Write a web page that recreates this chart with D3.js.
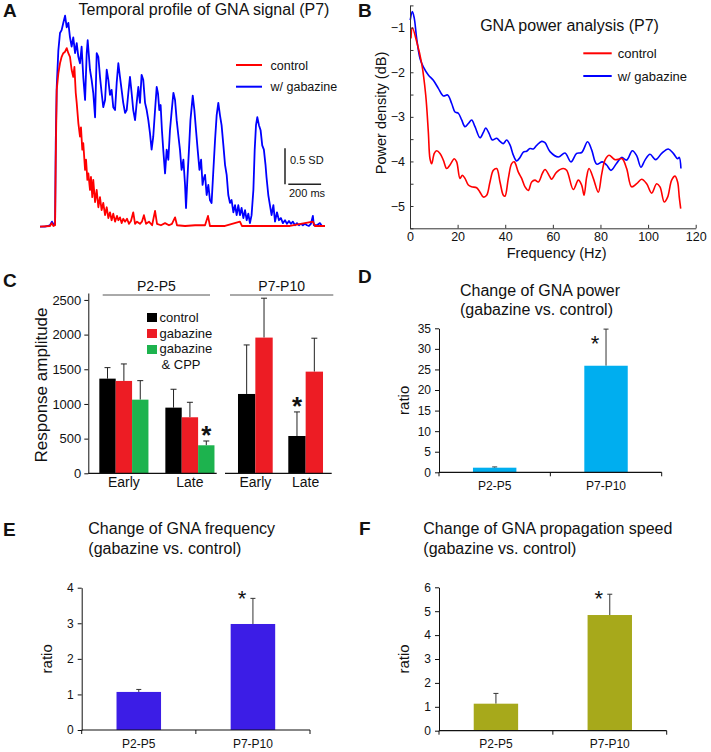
<!DOCTYPE html>
<html>
<head>
<meta charset="utf-8">
<script src="https://cdn.jsdelivr.net/npm/d3@7"></script>
<style>
  body { margin: 0; background: #fff; }
  svg text { font-family: "Liberation Sans", Arial, sans-serif; fill: #111; }
</style>
</head>
<body>
<svg id="canvas"></svg>
<script>
// ---------- data ----------

// A: temporal profile, [time ms, amplitude SD]
let traceGabazine = [[0,0],[30,0],[61,0.02],[73,0.07],[85,0.02],[92,0.04],[96,1.16],[102,1.94],[112,2.45],[122,2.69],[132,2.73],[142,2.83],[153,2.93],[163,2.77],[173,2.83],[183,2.63],[193,2.5],[203,2.63],[214,2.41],[224,2.55],[234,2.36],[244,2.27],[254,2.5],[264,2.08],[275,1.76],[285,2.41],[291,2.59],[305,2.18],[315,2.04],[325,1.86],[336,1.52],[346,2.41],[356,2.36],[366,2.08],[376,1.86],[386,1.66],[397,1.76],[407,2.18],[417,2.04],[427,1.83],[437,1.9],[447,1.66],[458,1.62],[468,2.0],[478,2.27],[488,2.08],[498,1.9],[508,1.72],[519,1.58],[529,1.62],[539,1.86],[549,2.08],[559,1.86],[569,1.62],[580,1.48],[590,1.72],[600,1.94],[610,1.72],[620,2.11],[630,2.04],[641,1.72],[651,1.62],[661,1.48],[671,1.3],[681,1.07],[691,1.25],[702,1.62],[712,1.94],[720,1.85],[728,1.62],[736,1.69],[744,1.34],[752,1.07],[763,0.74],[773,1.07],[783,0.93],[793,1.34],[804,1.62],[814,1.86],[824,1.76],[834,1.48],[844,1.27],[854,1.07],[864,0.79],[875,0.93],[885,0.58],[891,0.26],[899,0.65],[909,1.07],[918,1.48],[932,1.82],[942,1.62],[952,1.34],[962,1.07],[973,0.79],[983,0.93],[992,0.58],[997,0.65],[1007,0.72],[1017,0.44],[1027,0.58],[1037,0.37],[1047,0.33],[1058,0.79],[1068,1.2],[1078,1.55],[1088,1.72],[1098,1.55],[1108,1.41],[1119,1.13],[1129,0.86],[1139,0.72],[1149,0.44],[1159,0.33],[1169,0.37],[1180,0.2],[1190,0.3],[1200,0.16],[1210,0.3],[1220,0.16],[1230,0.26],[1241,0.12],[1251,0.23],[1261,0.09],[1271,0.18],[1281,0.05],[1291,0.16],[1302,0.51],[1310,1.07],[1318,1.41],[1326,1.52],[1336,1.41],[1346,1.34],[1356,1.13],[1366,1.07],[1376,0.86],[1382,0.69],[1393,0.44],[1403,0.3],[1413,0.16],[1424,0.3],[1434,0.07],[1446,0.2],[1458,0.09],[1470,0.12],[1482,0.05],[1495,0.09],[1507,0.04],[1519,0.08],[1531,0.04],[1543,0.07],[1556,0.02],[1568,0.05],[1580,0.02],[1592,0.04],[1604,0.02],[1617,0.04],[1629,0.02],[1641,0.01],[1653,0.04],[1665,0.15],[1671,0.02],[1690,0.02],[1708,0.05],[1720,0.01],[1739,0.01]]

let traceControl = [[0,0],[61,0.01],[72,0.05],[82,0.01],[92,0.02],[96,0.93],[102,1.9],[112,2.13],[122,2.27],[132,2.36],[142,2.41],[153,2.43],[163,2.48],[173,2.41],[183,2.36],[193,2.18],[203,2.08],[210,2.22],[218,1.86],[224,1.72],[234,1.44],[244,1.25],[250,1.38],[258,1.07],[264,1.16],[275,0.79],[281,0.93],[289,0.65],[295,0.74],[305,0.51],[311,0.69],[319,0.41],[325,0.65],[336,0.34],[346,0.51],[356,0.27],[366,0.41],[376,0.23],[386,0.33],[397,0.16],[407,0.27],[417,0.12],[427,0.2],[437,0.09],[447,0.18],[458,0.07],[470,0.15],[478,0.09],[488,0.13],[498,0.05],[508,0.11],[519,0.07],[531,0.11],[543,0.04],[555,0.08],[569,0.2],[580,0.04],[592,0.07],[610,0.04],[622,0.07],[634,0.16],[647,0.04],[665,0.07],[684,0.02],[702,0.22],[714,0.04],[738,0.02],[763,0.05],[787,0.02],[805,0.04],[824,0.13],[836,0.02],[885,0.01],[946,0.02],[1007,0.02],[1025,0.15],[1037,0.01],[1129,0.01],[1220,0.07],[1232,0.01],[1342,0.01],[1525,0.01],[1665,0.07],[1678,0.01],[1739,0.01]]

// B: power density, [frequency Hz, dB]
let psdControl = [[0.4,-1.24],[1.0,-1.0],[2.8,-1.31],[4.9,-1.8],[6.6,-2.51],[7.7,-3.34],[8.4,-3.94],[9.1,-4.05],[10.2,-3.82],[11.2,-3.76],[12.6,-3.82],[14,-3.97],[15.4,-4.16],[16.8,-4.08],[18.6,-3.94],[19.6,-4.01],[21,-4.38],[22,-4.31],[23.1,-4.38],[24.5,-4.53],[25.9,-4.57],[28,-4.59],[29.4,-4.69],[30.8,-4.8],[32.2,-4.76],[33.6,-4.46],[35,-4.2],[36.4,-4.16],[37.8,-4.46],[39.2,-4.76],[39.9,-4.78],[41.3,-4.38],[42.7,-4.05],[43.8,-4.01],[45.5,-4.24],[46.9,-4.38],[48.3,-4.57],[49.7,-4.65],[51.1,-4.46],[52.5,-4.42],[53.9,-4.46],[55.6,-4.27],[56.7,-4.18],[58.8,-4.35],[59.5,-4.4],[61.6,-4.24],[64.4,-4.16],[65.8,-4.2],[68.6,-4.63],[70.7,-4.42],[72.1,-4.53],[73.1,-4.76],[74.2,-4.35],[75.2,-4.16],[77,-4.38],[79.1,-4.69],[80.5,-4.29],[81.9,-3.97],[83.6,-3.86],[86.1,-3.96],[88.2,-3.94],[89.2,-3.94],[91,-4.16],[93.1,-4.57],[95.2,-4.5],[97.3,-4.4],[99.4,-4.5],[101.5,-4.71],[103.6,-4.5],[105,-4.57],[106.8,-4.91],[108.2,-4.8],[109.9,-4.42],[111.3,-4.33],[112.4,-4.46],[113.1,-4.8],[113.7,-5.06]]

let psdGabazine = [[0.1,-0.83],[1.0,-0.64],[1.8,-0.79],[2.8,-1.24],[4.2,-1.69],[5.6,-1.88],[7.7,-2.06],[9.8,-2.18],[11.9,-2.36],[14,-2.53],[15.8,-2.51],[17.5,-2.7],[18.9,-2.89],[20.3,-2.92],[21.7,-3.07],[23.1,-3.22],[24.5,-3.15],[25.9,-3.07],[27.3,-3.22],[29.4,-3.47],[30.8,-3.35],[31.8,-3.25],[33.2,-3.37],[34.6,-3.52],[36.4,-3.48],[37.8,-3.55],[39.2,-3.6],[40.6,-3.52],[42,-3.63],[43.4,-3.86],[44.8,-3.99],[46.2,-3.91],[47.6,-3.79],[49,-3.77],[50.4,-3.71],[51.8,-3.72],[53.2,-3.64],[55.3,-3.55],[56.7,-3.58],[58.8,-3.78],[62.3,-3.9],[65.1,-3.81],[67.6,-4.01],[70,-3.82],[72.1,-3.8],[74.6,-3.56],[76.3,-3.74],[78.4,-4.06],[80.8,-4.01],[82.6,-4.08],[84.4,-4.2],[86.8,-4.04],[88.9,-3.91],[91,-3.97],[93.4,-3.76],[95.2,-3.87],[97,-4.13],[98.7,-3.97],[100.8,-3.84],[103.2,-3.96],[105.7,-3.82],[108.5,-3.72],[110.6,-3.82],[112.4,-3.94],[113.1,-3.91],[113.8,-4.16]]

// C: response amplitude (mean, SEM)
let ampPhases = ["Early", "Late"]
let ampSeriesP2P5 = ["control", "gabazine", "gabazine & CPP"]
let ampSeriesP7P10 = ["control", "gabazine"]
let ampP2P5 = [[1365, 947], [1332, 808], [1062, 404]]
let ampP2P5Err = [[159, 265], [245, 216], [274, 62]]
let ampP7P10 = [[1144, 538], [1957, 1466]]
let ampP7P10Err = [[707, 347], [568, 482]]

// D, E, F: gabazine vs. control ratios
let ageGroups = ["P2-P5", "P7-P10"]
let powerRatio = [1.12, 25.9]
let powerRatioErr = [0.18, 8.9]
let freqRatio = [1.07, 2.98]
let freqRatioErr = [0.07, 0.72]
let speedRatio = [1.13, 4.84]
let speedRatioErr = [0.43, 0.87]

// ---------- drawing ----------
let width = 711
let height = 752
let canvas = d3.select("#canvas").attr("width", width).attr("height", height)

let red = "#ff0000"
let blue = "#0000ff"

let label = (x, y, txt, size, anchor, weight) =>
  canvas.append("text").attr("x", x).attr("y", y)
        .attr("font-size", size).attr("text-anchor", anchor || "start")
        .attr("font-weight", weight || "normal").text(txt)

// panel letters
label(3, 17, "A", 19, "start", "bold")
label(358, 17, "B", 19, "start", "bold")
label(3, 287, "C", 19, "start", "bold")
label(358, 283, "D", 19, "start", "bold")
label(3, 536, "E", 19, "start", "bold")
label(359, 535, "F", 19, "start", "bold")

// ===== Panel A =====
let xA = d3.scaleLinear().domain([0, 1739]).range([40, 325])
let yA = d3.scaleLinear().domain([0, 1]).range([226.7, 154.7])
let lineA = d3.line().x(d => xA(d[0])).y(d => yA(d[1]))

canvas.append("path").datum(traceGabazine).attr("d", lineA)
      .attr("fill", "none").attr("stroke", blue).attr("stroke-width", 1.8).attr("stroke-linejoin", "round")
canvas.append("path").datum(traceControl).attr("d", lineA)
      .attr("fill", "none").attr("stroke", red).attr("stroke-width", 1.8).attr("stroke-linejoin", "round")

label(204, 15, "Temporal profile of GNA signal (P7)", 16, "middle")

// legend A
let legA = [["control", red], ["w/ gabazine", blue]]
legA.forEach((d, i) => {
  let y = 65 + i * 21.7
  canvas.append("line").attr("x1", 236).attr("x2", 262).attr("y1", y).attr("y2", y)
        .attr("stroke", d[1]).attr("stroke-width", 2)
  label(270.5, y + 4.5, d[0], 12.5)
})

// scale bar (200 ms, 0.5 SD)
let sbX = 285, sbY = 184.3
canvas.append("line").attr("x1", sbX).attr("x2", sbX).attr("y1", sbY - (yA(0) - yA(0.5))).attr("y2", sbY)
      .attr("stroke", "#222").attr("stroke-width", 1.5)
canvas.append("line").attr("x1", sbX + 3.3).attr("x2", sbX + 3.3 + xA(200) - xA(0)).attr("y1", sbY).attr("y2", sbY)
      .attr("stroke", "#222").attr("stroke-width", 1.5)
label(290, 164, "0.5 SD", 11)
label(289, 197, "200 ms", 11)

// ===== Panel B =====
let xB = d3.scaleLinear().domain([0, 120]).range([410, 695.7])
let yB = d3.scaleLinear().domain([-5.5, -0.5]).range([228.3, 5.4])
let lineB = d3.line().x(d => xB(d[0])).y(d => yB(d[1])).curve(d3.curveCatmullRom)

canvas.append("path").datum(psdGabazine).attr("d", lineB)
      .attr("fill", "none").attr("stroke", blue).attr("stroke-width", 1.6)
canvas.append("path").datum(psdControl).attr("d", lineB)
      .attr("fill", "none").attr("stroke", red).attr("stroke-width", 1.6)

let axBx = canvas.append("g").attr("transform", "translate(0,228.3)")
  .call(d3.axisBottom(xB).tickValues(d3.range(0, 121, 20)).tickSizeInner(-3.5).tickSizeOuter(0).tickPadding(4))
let axBy = canvas.append("g").attr("transform", "translate(410,0)")
  .call(d3.axisLeft(yB).tickValues([-5.5, -5, -4.5, -4, -3.5, -3, -2.5, -2, -1.5, -1, -0.5])
          .tickFormat(d => Number.isInteger(d) ? d3.format("d")(d) : "")
          .tickSizeInner(-3.5).tickSizeOuter(0).tickPadding(5))
;[axBx, axBy].forEach(a => { a.attr("font-size", 12.5); a.selectAll("path,line").attr("stroke", "#333") })

label(569.5, 31, "GNA power analysis (P7)", 16, "middle")
label(556.7, 257.5, "Frequency (Hz)", 14.5, "middle")
canvas.append("text").attr("transform", "translate(386,113) rotate(-90)")
      .attr("text-anchor", "middle").attr("font-size", 14.5).text("Power density (dB)")

let legB = [["control", red], ["w/ gabazine", blue]]
legB.forEach((d, i) => {
  let y = 53.3 + i * 22.7
  canvas.append("line").attr("x1", 583.3).attr("x2", 611.7).attr("y1", y).attr("y2", y)
        .attr("stroke", d[1]).attr("stroke-width", 2)
  label(617.7, y + 4.5, d[0], 13)
})

// ===== Panel C =====
let ampColors = ["#000000", "#ed1c24", "#1db34e"]
let yC = d3.scaleLinear().domain([0, 2600]).range([473.3, 293])

canvas.append("g").attr("transform", "translate(88.3,0)")
  .call(d3.axisLeft(yC).tickValues(d3.range(0, 2501, 500)).tickFormat(d3.format("d"))
          .tickSizeInner(4).tickSizeOuter(0).tickPadding(3))
  .attr("font-size", 13)
  .call(g => g.selectAll("path,line").attr("stroke", "#111"))

canvas.append("text").attr("transform", "translate(47,385) rotate(-90)")
      .attr("text-anchor", "middle").attr("font-size", 17).text("Response amplitude")

let ampBlocks = [
  { age: "P2-P5", series: ampSeriesP2P5, vals: ampP2P5, errs: ampP2P5Err, range: [88.3, 225.5], pi: 0.256, po: 0.167,
    axis: [88.3, 216.7], header: [102.7, 210], star: [1, 2] },
  { age: "P7-P10", series: ampSeriesP7P10, vals: ampP7P10, errs: ampP7P10Err, range: [223, 338], pi: 0.31, po: 0.298,
    axis: [225, 331.7], header: [230, 333.3], star: [1, 0] }
]

ampBlocks.forEach(b => {
  let xo = d3.scaleBand().domain(ampPhases).range(b.range).paddingInner(b.pi).paddingOuter(b.po)
  let xi = d3.scaleBand().domain(b.series).range([0, xo.bandwidth()])
  b.series.forEach((s, si) => {
    ampPhases.forEach((p, pi) => {
      let v = b.vals[si][pi], e = b.errs[si][pi]
      let x0 = xo(p) + xi(s), cx = x0 + xi.bandwidth() / 2
      canvas.append("line").attr("x1", cx).attr("x2", cx).attr("y1", yC(v)).attr("y2", yC(v + e))
            .attr("stroke", "#222").attr("stroke-width", 1)
      canvas.append("line").attr("x1", cx - 3).attr("x2", cx + 3).attr("y1", yC(v + e)).attr("y2", yC(v + e))
            .attr("stroke", "#222").attr("stroke-width", 1)
      canvas.append("rect").attr("x", x0).attr("y", yC(v)).attr("width", xi.bandwidth())
            .attr("height", yC(0) - yC(v)).attr("fill", ampColors[si])
      if (pi === b.star[0] && si === b.star[1]) {
        label(cx, yC(v + e) - 10 + 13, "*", 26, "middle", "bold")
      }
    })
  })
  ampPhases.forEach(p => label(xo(p) + xo.bandwidth() / 2, 487, p, 14, "middle"))
  canvas.append("line").attr("x1", b.axis[0]).attr("x2", b.axis[1]).attr("y1", yC(0)).attr("y2", yC(0))
        .attr("stroke", "#111").attr("stroke-width", 1.2)
  canvas.append("line").attr("x1", b.header[0]).attr("x2", b.header[1]).attr("y1", 295).attr("y2", 295)
        .attr("stroke", "#555").attr("stroke-width", 1)
  label((b.header[0] + b.header[1]) / 2, 291, b.age, 14, "middle")
})

// legend C
let legCNames = ["control", "gabazine", "gabazine", "& CPP"]
ampSeriesP2P5.forEach((s, i) => {
  canvas.append("rect").attr("x", 147).attr("y", 313 + i * 16).attr("width", 10).attr("height", 9).attr("fill", ampColors[i])
})
legCNames.forEach((t, i) => label(i === 3 ? 161.5 : 159.5, 322 + i * 15.7, t, 13))

// ===== Panels D, E, F =====
function ratioPanel(cfg) {
  let y = d3.scaleLinear().domain([0, cfg.max]).range(cfg.yRange)
  let x = d3.scaleBand().domain(ageGroups).range(cfg.xRange).paddingInner(0.61).paddingOuter(0.305)

  cfg.vals.forEach((v, i) => {
    let e = cfg.errs[i]
    let cx = x(ageGroups[i]) + x.bandwidth() / 2
    canvas.append("line").attr("x1", cx).attr("x2", cx).attr("y1", y(v)).attr("y2", y(v + e))
          .attr("stroke", "#333").attr("stroke-width", 1)
    canvas.append("line").attr("x1", cx - 2.5).attr("x2", cx + 2.5).attr("y1", y(v + e)).attr("y2", y(v + e))
          .attr("stroke", "#333").attr("stroke-width", 1)
    canvas.append("rect").attr("x", x(ageGroups[i])).attr("y", y(v)).attr("width", x.bandwidth())
          .attr("height", y(0) - y(v)).attr("fill", cfg.color)
    label(cx, cfg.yRange[0] + 17.5, ageGroups[i], 12, "middle")
    if (i === 1) label(cx - 11, y(v + e) + cfg.starDy + 12.5, "*", 22, "middle")
  })

  canvas.append("g").attr("transform", `translate(${cfg.xRange[0]},0)`)
    .call(d3.axisLeft(y).ticks(cfg.max / cfg.step).tickSizeInner(4).tickSizeOuter(0).tickPadding(4))
    .attr("font-size", 12)
    .call(g => g.selectAll("path,line").attr("stroke", "#111"))
  // category axis with boundary ticks
  let x0 = cfg.xRange[0], x1 = cfg.xRange[1], y0 = cfg.yRange[0]
  canvas.append("line").attr("x1", x0).attr("x2", x1).attr("y1", y0).attr("y2", y0).attr("stroke", "#111").attr("stroke-width", 1.2)
  ;[x0, (x0 + x1) / 2, x1].forEach(tx => canvas.append("line").attr("x1", tx).attr("x2", tx)
        .attr("y1", y0).attr("y2", y0 + 4).attr("stroke", "#111"))

  canvas.append("text").attr("transform", `translate(${cfg.xRange[0] - 30},${(cfg.yRange[0] + cfg.yRange[1]) / 2}) rotate(-90)`)
        .attr("text-anchor", "middle").attr("font-size", 15).text("ratio")
  label(cfg.titleX, cfg.titleY, cfg.title[0], 16)
  label(cfg.titleX, cfg.titleY + 19.5, cfg.title[1], 16)
}

ratioPanel({ vals: powerRatio, errs: powerRatioErr, max: 35, step: 5, color: "#00aeef",
  yRange: [472.3, 328.3], xRange: [439, 661.7], starDy: 9,
  title: ["Change of GNA power", "(gabazine vs. control)"], titleX: 460, titleY: 295.5 })

ratioPanel({ vals: freqRatio, errs: freqRatioErr, max: 4, step: 1, color: "#3c1de6",
  yRange: [730, 587.7], xRange: [81.7, 310], starDy: -5,
  title: ["Change of GNA frequency", "(gabazine vs. control)"], titleX: 88.3, titleY: 534 })

ratioPanel({ vals: speedRatio, errs: speedRatioErr, max: 6, step: 1, color: "#a7a91b",
  yRange: [730.7, 587.3], xRange: [439, 666.7], starDy: -1,
  title: ["Change of GNA propagation speed", "(gabazine vs. control)"], titleX: 423.3, titleY: 534 })
</script>
</body>
</html>
